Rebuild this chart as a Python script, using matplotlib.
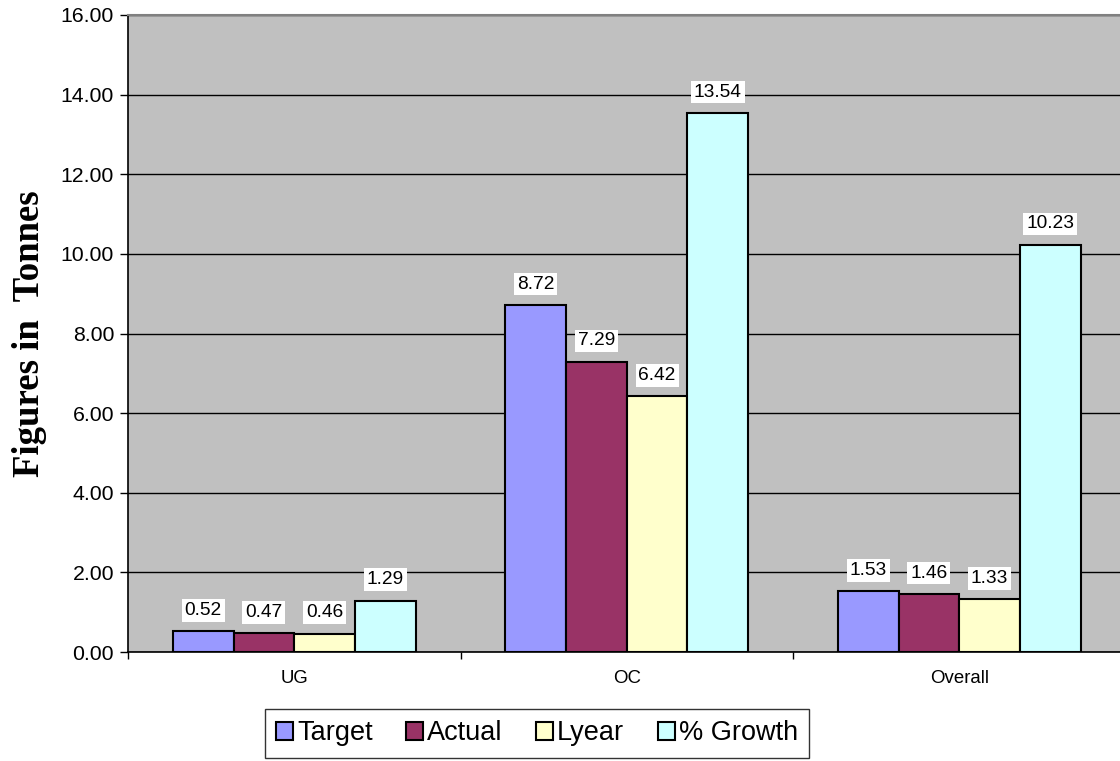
import matplotlib
matplotlib.use("Agg")
import matplotlib.pyplot as plt
import numpy as np

categories = ["UG", "OC", "Overall"]
series_names = ["Target", "Actual", "Lyear", "% Growth"]
target = [0.52, 8.72, 1.53]
actual = [0.47, 7.29, 1.46]
lyear = [0.46, 6.42, 1.33]
growth = [1.29, 13.54, 10.23]
y_ticks = [0.0, 2.0, 4.0, 6.0, 8.0, 10.0, 12.0, 14.0, 16.0]

series = [target, actual, lyear, growth]
colors = ["#9999FF", "#993366", "#FFFFCC", "#CCFFFF"]

fig = plt.figure(figsize=(11.2, 7.61), dpi=100)
W, H = 1120, 761
ax = fig.add_axes([128 / W, 1 - 652 / H, 997.5 / W, 637 / H])
ax.set_facecolor("#C0C0C0")

x = np.arange(len(categories))
bw = 0.1826
handles = []
for i, (vals, c) in enumerate(zip(series, colors)):
    pos = x + (i - 1.5) * bw
    bars = ax.bar(pos, vals, width=bw, color=c, edgecolor="black", linewidth=1.5,
                  zorder=3, label=series_names[i])
    handles.append(bars)
    for xp, v in zip(pos, vals):
        ax.annotate(f"{v:.2f}", (xp, v), xytext=(0, 15), textcoords="offset points",
                    ha="center", va="center", fontsize=13.8, family="Liberation Sans",
                    bbox=dict(boxstyle="square,pad=0.15", fc="white", ec="none"), zorder=5)

ax.set_xlim(-0.5, len(categories) - 0.5)
ax.set_ylim(0, 16)
ax.set_yticks(y_ticks)
ax.set_yticklabels([f"{t:.2f}" for t in y_ticks], fontsize=15.3, family="Liberation Sans")
ax.yaxis.grid(True, color="black", linewidth=1.0, zorder=1)
ax.set_axisbelow(True)

ax.set_xticks(x)
ax.set_xticklabels(categories, fontsize=13.4, family="Liberation Sans")
ax.tick_params(axis="x", length=0, pad=13)
ax.set_xticks(np.arange(len(categories) + 1) - 0.5, minor=True)
ax.tick_params(axis="x", which="minor", length=5, width=1, color="black")
ax.tick_params(axis="y", length=6, width=1, color="black", pad=4)

ax.spines["top"].set_color("#808080")
ax.spines["top"].set_linewidth(1.5)
ax.spines["right"].set_visible(False)
ax.spines["left"].set_linewidth(1.2)
ax.spines["bottom"].set_linewidth(1.2)

ax.set_ylabel("Figures in  Tonnes", fontsize=26.5, fontweight="bold",
              family="Liberation Serif", labelpad=10)

leg = fig.legend(handles=handles, labels=series_names, loc="center",
                 bbox_to_anchor=(537 / W, 1 - 733.5 / H), ncol=4,
                 frameon=True, fancybox=False, edgecolor="black",
                 prop={"family": "Liberation Sans", "size": 19.5},
                 handlelength=0.62, handleheight=0.62, handletextpad=0.14,
                 columnspacing=1.25, borderpad=0.42)
leg.get_frame().set_linewidth(1.0)

fig.savefig("out.png", dpi=100)
